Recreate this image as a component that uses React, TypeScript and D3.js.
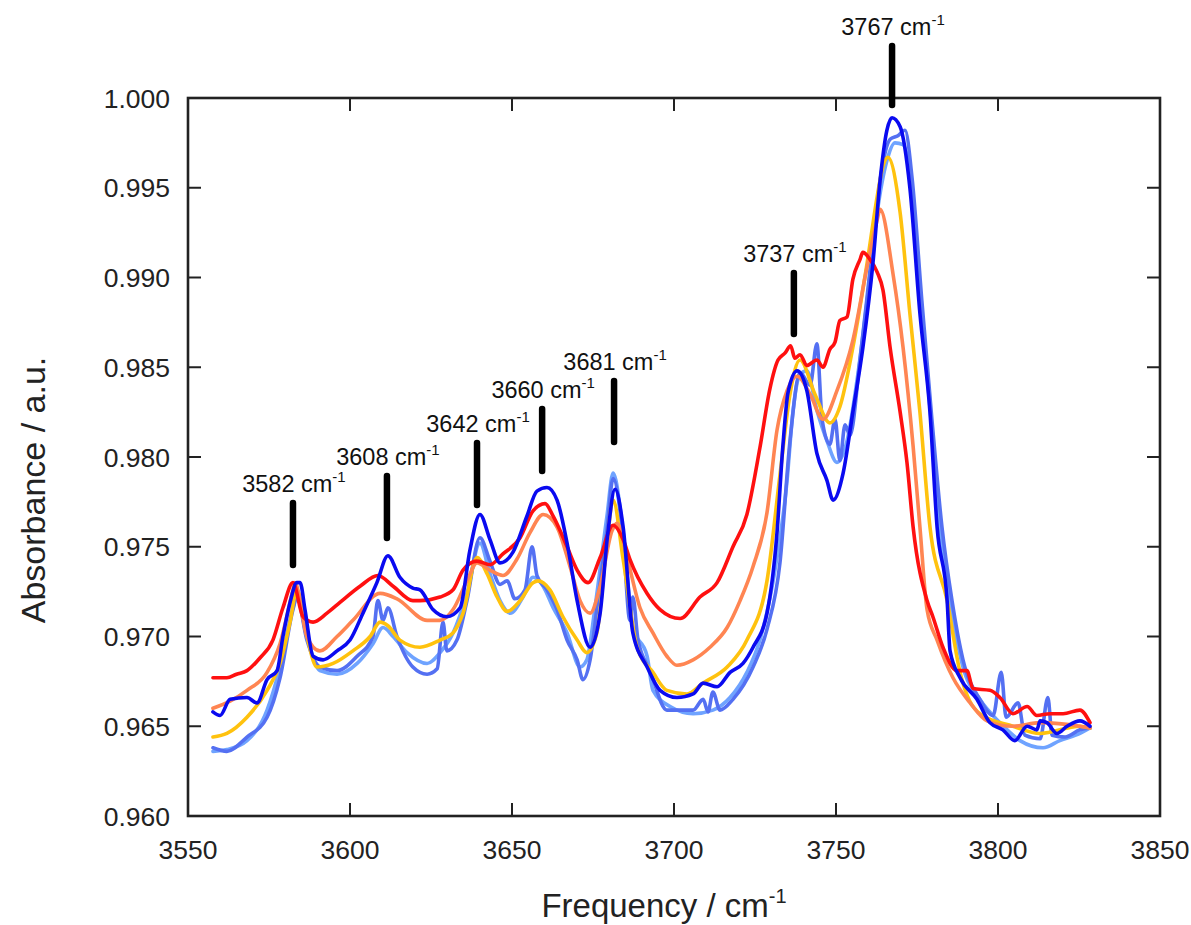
import React from "react";
import * as d3 from "d3";

// ---------- data (frequency cm-1, absorbance a.u.) ----------
const xTicks = [3550, 3600, 3650, 3700, 3750, 3800, 3850];
const yTicks = [0.96, 0.965, 0.97, 0.975, 0.98, 0.985, 0.99, 0.995, 1.0];

const redSpectrum: [number, number][] = [
  [3557.7, 0.9677], [3562, 0.9677], [3565, 0.9679], [3568.2, 0.9681], [3572.2, 0.9688], [3576.2, 0.9698], [3579.3, 0.9716],
  [3582.4, 0.973], [3585.5, 0.9711], [3588.6, 0.9708], [3592.9, 0.9713], [3596.9, 0.9719],
  [3603.1, 0.9728], [3608.6, 0.9734], [3613.3, 0.9728], [3619.4, 0.972], [3621.6, 0.972],
  [3627.8, 0.9722], [3631.8, 0.9726], [3634.9, 0.9737], [3639.2, 0.9742], [3643.2, 0.974],
  [3647.2, 0.9746], [3652.5, 0.9755], [3656.5, 0.977], [3660.2, 0.9774], [3662.7, 0.9767],
  [3667.0, 0.975], [3670.1, 0.9737], [3673.5, 0.973], [3677.2, 0.9744], [3681.2, 0.9762],
  [3684.3, 0.9754], [3686.4, 0.9743], [3691.7, 0.9724], [3695.7, 0.9715], [3701.9, 0.971],
  [3708.0, 0.9722], [3713.3, 0.973], [3718.2, 0.975], [3722.5, 0.9768], [3726.5, 0.9805],
  [3729.6, 0.9838], [3732.1, 0.9854], [3734.3, 0.9858], [3736.0, 0.9862], [3737.3, 0.9855],
  [3738.9, 0.9857], [3741.0, 0.9851], [3744.1, 0.9854], [3746.0, 0.985], [3748.1, 0.986],
  [3749.7, 0.9864], [3751.2, 0.9876], [3753.4, 0.9878], [3755.2, 0.9899], [3757.4, 0.991],
  [3758.3, 0.9914], [3760.5, 0.991], [3762.7, 0.9903], [3764.5, 0.9893], [3766.7, 0.9861],
  [3769.8, 0.9825], [3771.9, 0.9797], [3773.8, 0.9761], [3778.1, 0.972], [3779.9, 0.9711],
  [3783.0, 0.9694], [3787.3, 0.9681], [3790.4, 0.9681], [3792.3, 0.9671], [3797.5, 0.967],
  [3800.6, 0.9666], [3804.6, 0.9657], [3809.0, 0.9661], [3812.0, 0.9656], [3816.0, 0.9657],
  [3820.1, 0.9657], [3825.3, 0.9659], [3828.4, 0.9652],
];

const coralSpectrum: [number, number][] = [
  [3557.7, 0.966], [3563, 0.9664], [3568.2, 0.967], [3574.4, 0.968], [3578.4, 0.9696], [3582.4, 0.9726],
  [3583.0, 0.973], [3586.7, 0.97], [3590.7, 0.9692], [3596.0, 0.97], [3600.9, 0.9709],
  [3609.3, 0.9724], [3614.5, 0.9721], [3623.8, 0.9709], [3627.8, 0.9709], [3631.8, 0.9715],
  [3636.1, 0.9731], [3639.2, 0.9741], [3643.2, 0.9737], [3647.2, 0.9734], [3651.5, 0.9743],
  [3655.6, 0.9758], [3659.6, 0.9768], [3663.9, 0.9761], [3667.9, 0.9739], [3671.0, 0.972],
  [3674.1, 0.9713], [3677.2, 0.9728], [3680.9, 0.9759], [3682.4, 0.9763], [3685.5, 0.9744],
  [3689.5, 0.9716], [3693.5, 0.9702], [3697.8, 0.9689], [3700.9, 0.9684], [3705.9, 0.9687],
  [3711.1, 0.9694], [3716.4, 0.9705], [3720.4, 0.972], [3724.4, 0.9739], [3728.7, 0.9769],
  [3731.8, 0.9815], [3734.9, 0.9837], [3738.0, 0.9845], [3742.0, 0.9835], [3746.0, 0.9821],
  [3750.3, 0.9837], [3755.2, 0.9865], [3759.6, 0.9906], [3762.7, 0.9932], [3763.6, 0.9938],
  [3767.6, 0.9902], [3770.7, 0.9861], [3773.8, 0.9806], [3775.9, 0.9761], [3778.1, 0.9715],
  [3781.2, 0.9698], [3786.1, 0.9677], [3791.4, 0.9663], [3796.6, 0.9653], [3804.6, 0.965],
  [3813.0, 0.9652], [3825.3, 0.965], [3828.4, 0.9649],
];

const goldSpectrum: [number, number][] = [
  [3557.7, 0.9644], [3562.0, 0.9646], [3568.2, 0.9655], [3574.4, 0.967], [3578.4, 0.9685],
  [3581.5, 0.9708], [3583.6, 0.9726], [3586.7, 0.97], [3589.8, 0.9683], [3594.8, 0.9685],
  [3600.9, 0.9692], [3606.2, 0.97], [3609.3, 0.9708], [3611.7, 0.9706], [3615.4, 0.9698],
  [3621.6, 0.9694], [3627.8, 0.9698], [3631.8, 0.9702], [3634.9, 0.9713], [3639.2, 0.9744],
  [3642.3, 0.9735], [3645.4, 0.9722], [3648.5, 0.9714], [3652.5, 0.972], [3656.5, 0.973],
  [3658.0, 0.9731], [3661.7, 0.9726], [3665.7, 0.9711], [3670.1, 0.9698], [3673.1, 0.9691],
  [3676.2, 0.9702], [3679.3, 0.9752], [3681.2, 0.9776], [3684.3, 0.9743], [3688.6, 0.9694],
  [3693.5, 0.968], [3697.8, 0.967], [3704.0, 0.9668], [3708.9, 0.9674], [3716.4, 0.9683],
  [3722.5, 0.9698], [3728.7, 0.9731], [3732.7, 0.979], [3735.8, 0.9835], [3738.9, 0.9854],
  [3743.5, 0.9835], [3748.1, 0.9819], [3751.2, 0.9828], [3755.2, 0.9861], [3759.6, 0.9908],
  [3762.7, 0.9945], [3764.5, 0.9962], [3766.0, 0.9967], [3769.8, 0.9936], [3772.8, 0.988],
  [3775.9, 0.9825], [3779.0, 0.9761], [3784.3, 0.972], [3788.3, 0.968], [3794.4, 0.9657],
  [3804.6, 0.965], [3813.0, 0.9646], [3825.3, 0.965], [3828.4, 0.9649],
];

const lightBlueSpectrum: [number, number][] = [
  [3557.7, 0.9636], [3562.0, 0.9637], [3568.2, 0.9642], [3574.4, 0.9659], [3578.4, 0.9683],
  [3582.4, 0.9716], [3583.6, 0.9722], [3586.7, 0.97], [3590.7, 0.9681], [3596.0, 0.9679],
  [3602.2, 0.9685], [3607.1, 0.9696], [3610.2, 0.9705], [3613.3, 0.97], [3617.6, 0.9691],
  [3623.8, 0.9685], [3627.8, 0.9691], [3631.8, 0.9702], [3636.1, 0.9724], [3640.1, 0.9752],
  [3643.2, 0.9735], [3646.3, 0.972], [3649.4, 0.9713], [3653.4, 0.9722], [3656.5, 0.9733],
  [3659.6, 0.9728], [3662.7, 0.9716], [3667.0, 0.9702], [3671.0, 0.9683], [3673.1, 0.9687],
  [3675.6, 0.9716], [3679.3, 0.9767], [3681.2, 0.9791], [3684.3, 0.9758], [3687.3, 0.9705],
  [3691.7, 0.9689], [3693.5, 0.967], [3698.8, 0.9661], [3705.9, 0.9657], [3712.0, 0.9659],
  [3717.3, 0.9666], [3722.5, 0.968], [3726.5, 0.9698], [3730.6, 0.9731], [3734.9, 0.9787],
  [3736.7, 0.9825], [3738.9, 0.9846], [3741.0, 0.9848], [3744.1, 0.9826], [3747.2, 0.9809],
  [3750.3, 0.9797], [3753.4, 0.9809], [3756.5, 0.9843], [3759.6, 0.9887], [3762.7, 0.9936],
  [3765.7, 0.9965], [3768.2, 0.9975], [3770.7, 0.9974], [3773.5, 0.9949], [3776.5, 0.988],
  [3779.6, 0.9815], [3782.1, 0.9761], [3785.2, 0.972], [3789.2, 0.9683], [3794.4, 0.9665],
  [3800.6, 0.9652], [3806.8, 0.9642], [3813.9, 0.9638], [3819.1, 0.9642], [3825.3, 0.9646],
  [3828.4, 0.9649],
];

const mediumBlueSpectrum: [number, number][] = [
  [3557.7, 0.9638], [3562.0, 0.9636], [3568.2, 0.9644], [3574.4, 0.9655], [3578.4, 0.9677],
  [3582.4, 0.9715], [3583.6, 0.9722], [3586.7, 0.9698], [3590.7, 0.9683], [3596.0, 0.9681],
  [3602.2, 0.9689], [3607.1, 0.97], [3608.6, 0.972], [3610.2, 0.9709], [3611.7, 0.9716],
  [3614.5, 0.97], [3619.4, 0.9683], [3623.8, 0.9679], [3626.9, 0.9682], [3628.7, 0.9708],
  [3629.9, 0.9692], [3633.0, 0.9698], [3636.1, 0.972], [3640.1, 0.9755], [3643.2, 0.9742],
  [3646.3, 0.9729], [3648.5, 0.9731], [3650.9, 0.9721], [3654.0, 0.9726], [3656.2, 0.975],
  [3657.7, 0.9734], [3660.8, 0.9726], [3663.9, 0.9715], [3667.0, 0.9698], [3670.1, 0.9687],
  [3671.9, 0.9676], [3674.1, 0.9687], [3676.5, 0.972], [3679.3, 0.9759], [3681.2, 0.9788],
  [3684.3, 0.9754], [3686.4, 0.9709], [3687.3, 0.9722], [3688.9, 0.9698], [3692.6, 0.9681],
  [3697.8, 0.9659], [3705.9, 0.9659], [3709.0, 0.9665], [3710.5, 0.9658], [3712.0, 0.9669],
  [3714.2, 0.9659], [3718.2, 0.9665], [3724.4, 0.9683], [3728.7, 0.9704], [3732.7, 0.9741],
  [3735.8, 0.9809], [3738.9, 0.9847], [3742.0, 0.984], [3744.1, 0.9863], [3745.7, 0.9821],
  [3748.1, 0.9807], [3749.7, 0.9821], [3751.2, 0.9798], [3752.8, 0.9818], [3754.3, 0.9812],
  [3757.4, 0.9854], [3760.5, 0.9904], [3763.6, 0.9954], [3766.7, 0.9977], [3769.1, 0.9979],
  [3771.3, 0.9982], [3773.5, 0.9955], [3776.5, 0.9887], [3779.6, 0.9821], [3782.7, 0.9761],
  [3785.8, 0.972], [3789.2, 0.9687], [3794.4, 0.9665], [3798.5, 0.9656], [3801.0, 0.968],
  [3802.5, 0.9655], [3806.2, 0.9663], [3808.3, 0.9645], [3813.0, 0.9643], [3815.4, 0.9666],
  [3816.7, 0.9645], [3820.7, 0.9644], [3825.3, 0.9648], [3828.4, 0.9649],
];

const darkBlueSpectrum: [number, number][] = [
  [3557.7, 0.9658], [3559.9, 0.9656], [3563.0, 0.9665], [3568.2, 0.9666], [3571.3, 0.9663],
  [3574.4, 0.9676], [3577.5, 0.9681], [3579.3, 0.97], [3581.5, 0.9719], [3583.6, 0.973],
  [3584.6, 0.973], [3586.1, 0.9715], [3588.6, 0.9689], [3591.7, 0.9687], [3596.0, 0.9692],
  [3600.0, 0.9698], [3604.0, 0.9713], [3608.3, 0.973], [3611.7, 0.9745], [3615.4, 0.9733],
  [3619.4, 0.9727], [3621.6, 0.9726], [3625.6, 0.9715], [3629.9, 0.9711], [3634.0, 0.9716],
  [3637.0, 0.9748], [3640.1, 0.9768], [3643.2, 0.9754], [3646.3, 0.9741], [3650.3, 0.9747],
  [3654.6, 0.9767], [3657.7, 0.9781], [3660.8, 0.9783], [3663.9, 0.9776], [3667.0, 0.9752],
  [3670.1, 0.972], [3674.1, 0.9694], [3677.2, 0.9713], [3679.6, 0.9758], [3681.8, 0.9782],
  [3684.3, 0.9761], [3687.3, 0.9702], [3691.7, 0.9683], [3695.7, 0.967], [3700.9, 0.9666],
  [3705.9, 0.9668], [3709.0, 0.9674], [3713.3, 0.9672], [3717.3, 0.968], [3721.3, 0.9685],
  [3724.4, 0.9694], [3728.7, 0.9713], [3731.8, 0.9758], [3733.6, 0.9806], [3735.2, 0.9836],
  [3738.0, 0.9848], [3741.0, 0.9837], [3744.1, 0.9802], [3747.2, 0.9787], [3749.1, 0.9776],
  [3752.2, 0.9791], [3755.2, 0.9825], [3758.3, 0.9861], [3761.4, 0.9908], [3763.6, 0.9954],
  [3765.7, 0.9982], [3767.3, 0.9989], [3769.8, 0.9984], [3772.8, 0.995], [3775.9, 0.988],
  [3779.0, 0.9825], [3781.2, 0.9761], [3784.3, 0.972], [3785.2, 0.9692], [3788.3, 0.9677],
  [3793.5, 0.9665], [3797.5, 0.9652], [3801.5, 0.9648], [3805.2, 0.9642], [3809.0, 0.965],
  [3812.0, 0.9648], [3813.0, 0.9653], [3815.1, 0.9652], [3818.2, 0.9646], [3821.3, 0.965],
  [3825.3, 0.9653], [3828.4, 0.965],
];

// peak annotations
const peakLabels = ["3582", "3608", "3642", "3660", "3681", "3737", "3767"];
const peakMarkX = [3582.4, 3611.4, 3639.2, 3659.3, 3681.5, 3737.0, 3767.3];
const peakMarkTop = [0.9776, 0.97911, 0.98095, 0.98284, 0.9844, 0.99042, 1.00306];
const peakMarkBottom = [0.97382, 0.97532, 0.97716, 0.97905, 0.98067, 0.98669, 0.99944];

const seriesColors = ["#6FA3FF", "#5470F2", "#FFC20E", "#FF8552", "#FF1010", "#0A0AF0"];
const seriesData = [lightBlueSpectrum, mediumBlueSpectrum, goldSpectrum, coralSpectrum, redSpectrum, darkBlueSpectrum];

// ---------- layout ----------
const W = 1191;
const H = 925;
const left = 188, right = 1160, top = 98, bottom = 816;
const FONT = "'Liberation Sans', Arial, Helvetica, sans-serif";
const INK = "#222";

export default function App() {
  const x = d3.scaleLinear().domain([3550, 3850]).range([left, right]);
  const y = d3.scaleLinear().domain([0.96, 1.0]).range([bottom, top]);
  const line = d3
    .line<[number, number]>()
    .x((d) => x(d[0]))
    .y((d) => y(d[1]))
    .curve(d3.curveMonotoneX);
  const tickLen = 13;

  return (
    <svg
      width={W}
      height={H}
      viewBox={`0 0 ${W} ${H}`}
      style={{ position: "absolute", left: 0, top: 0, background: "#fff" }}
      fontFamily={FONT}
    >
      <rect x={0} y={0} width={W} height={H} fill="#fff" />
      {/* spectra */}
      <g fill="none" strokeWidth={3.6} strokeLinejoin="round" strokeLinecap="round">
        {seriesData.map((s, i) => (
          <path key={i} d={line(s) || ""} stroke={seriesColors[i]} />
        ))}
      </g>

      {/* frame */}
      <rect x={left} y={top} width={right - left} height={bottom - top} fill="none" stroke={INK} strokeWidth={2.6} />
      {/* x ticks */}
      {xTicks.map((t) => (
        <g key={"x" + t}>
          <line x1={x(t)} x2={x(t)} y1={bottom} y2={bottom - tickLen} stroke={INK} strokeWidth={2} />
          <line x1={x(t)} x2={x(t)} y1={top} y2={top + tickLen} stroke={INK} strokeWidth={2} />
          <text x={x(t)} y={859} textAnchor="middle" fontSize={26.5} fill={INK}>
            {t}
          </text>
        </g>
      ))}
      {/* y ticks */}
      {yTicks.map((t) => (
        <g key={"y" + t}>
          <line x1={left} x2={left + tickLen} y1={y(t)} y2={y(t)} stroke={INK} strokeWidth={2} />
          <line x1={right} x2={right - tickLen} y1={y(t)} y2={y(t)} stroke={INK} strokeWidth={2} />
          <text x={170} y={y(t) + 9.5} textAnchor="end" fontSize={26.5} fill={INK}>
            {d3.format(".3f")(t)}
          </text>
        </g>
      ))}

      {/* axis titles */}
      <text x={664} y={917} textAnchor="middle" fontSize={33} fill={INK}>
        Frequency / cm
        <tspan fontSize={20} dy={-14}>-1</tspan>
      </text>
      <text
        transform={`translate(45, 490) rotate(-90)`}
        textAnchor="middle"
        fontSize={34}
        fill={INK}
      >
        Absorbance / a.u.
      </text>

      {/* peak markers */}
      {peakLabels.map((lab, i) => {
        const px = x(peakMarkX[i]);
        const yt = y(peakMarkTop[i]);
        const yb = y(peakMarkBottom[i]);
        return (
          <g key={"p" + i}>
            <line x1={px} x2={px} y1={yt + 3} y2={yb - 3} stroke="#000" strokeWidth={6.5} strokeLinecap="round" />
            <text x={px + 1} y={yt - 8} textAnchor="middle" fontSize={23.5} fill="#111">
              {lab} cm
              <tspan fontSize={15} dy={-10}>-1</tspan>
            </text>
          </g>
        );
      })}
    </svg>
  );
}
